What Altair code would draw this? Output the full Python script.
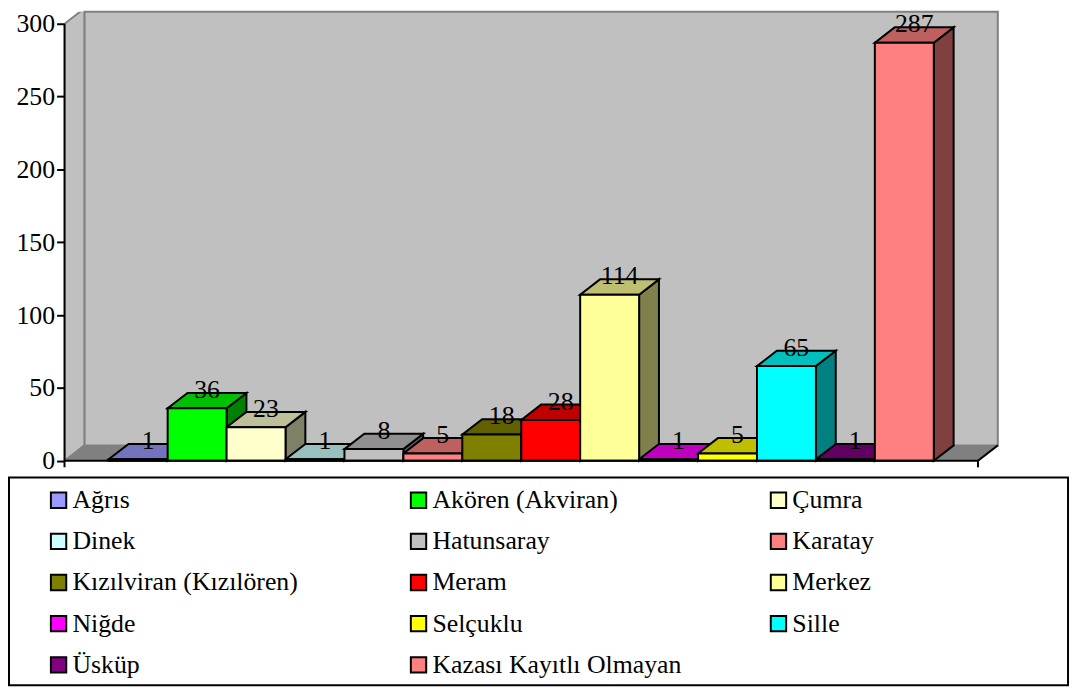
import altair as alt
import pandas as pd

# ---- data ----
names = ["Ağrıs", "Akören (Akviran)", "Çumra", "Dinek", "Hatunsaray", "Karatay",
         "Kızılviran (Kızılören)", "Meram", "Merkez", "Niğde", "Selçuklu", "Sille",
         "Üsküp", "Kazası Kayıtlı Olmayan"]
values = [1, 36, 23, 1, 8, 5, 18, 28, 114, 1, 5, 65, 1, 287]
colors = ["#9999FF", "#00FF00", "#FFFFCC", "#CCFFFF", "#C0C0C0", "#FF8080",
          "#808000", "#FF0000", "#FFFF99", "#FF00FF", "#FFFF00", "#00FFFF",
          "#800080", "#FF8080"]
y_ticks = [0, 50, 100, 150, 200, 250, 300]

# ---- geometry (in scale units) ----
XMIN, XMAX = -0.75, 15.1        # x domain, bar i spans [i, i+1]
FR = 14.75                      # front-right end of the floor
DXU = 0.3365                    # depth offset in bar units
DY = 10.55                      # depth offset in value units
YTOP, YBOT = 308.2, -154.05     # y domain (plot also holds the legend frame)
W, H = 942, 679
FONT = "Liberation Serif"


def shade(hexc, f):
    r, g, b = (int(hexc[k:k + 2], 16) for k in (1, 3, 5))
    return "#%02X%02X%02X" % (round(r * f), round(g * f), round(b * f))


xs = alt.Scale(domain=[XMIN, XMAX], nice=False, zero=False)
ys = alt.Scale(domain=[YBOT, YTOP], nice=False, zero=False)
yaxis = alt.Axis(values=y_ticks, title=None, domain=False, grid=False,
                 tickColor="black", tickWidth=2, tickSize=8,
                 labelFont=FONT, labelFontSize=26, labelColor="black",
                 labelPadding=2)


def X(f):
    return alt.X(f, type="quantitative", scale=xs, axis=None)


def Y(f):
    return alt.Y(f, type="quantitative", scale=ys, axis=yaxis, stack=None)


# ---- tables built from the arrays ----
front = pd.DataFrame({"name": names, "x0": list(range(len(names))),
                      "x1": [i + 1 for i in range(len(names))],
                      "y0": [0] * len(names), "v": values})

top_rows, side_rows = [], []
for i, (n, v, c) in enumerate(zip(names, values, colors)):
    top_rows.append({"name": n, "y": v, "xa": i, "xb": i + 1, "c": shade(c, 0.75)})
    top_rows.append({"name": n, "y": v + DY, "xa": i + DXU, "xb": i + 1 + DXU, "c": shade(c, 0.75)})
    side_rows.append({"name": n, "x": i + 1, "ya": 0, "yb": v, "c": shade(c, 0.5)})
    side_rows.append({"name": n, "x": i + 1 + DXU, "ya": DY, "yb": v + DY, "c": shade(c, 0.5)})
tops = pd.DataFrame(top_rows)
sides = pd.DataFrame(side_rows)
labels = pd.DataFrame({"x": [i + 0.5 + DXU / 2 for i in range(len(names))],
                       "y": [v + DY for v in values], "t": [str(v) for v in values]})

# ---- walls and floor ----
back_wall = alt.Chart(pd.DataFrame({"a": [XMIN + DXU], "b": [FR + DXU], "c": [DY], "d": [YTOP]})).mark_rect(
    fill="#C0C0C0", stroke="#808080", strokeWidth=2).encode(x=X("a"), x2="b", y=Y("c"), y2="d")

left_wall = alt.Chart(pd.DataFrame({"x": [XMIN, XMIN + DXU], "ya": [0, DY], "yb": [300, 300 + DY]})).mark_area(
    fill="#C0C0C0", stroke="#808080", strokeWidth=2, clip=True, orient="vertical").encode(
    x=X("x"), y=Y("ya"), y2="yb")

floor = alt.Chart(pd.DataFrame({"y": [0, DY], "xa": [XMIN, XMIN + DXU], "xb": [FR, FR + DXU]})).mark_area(
    fill="#808080", orient="horizontal").encode(y=Y("y"), x=X("xa"), x2="xb")

floor_edge = alt.Chart(pd.DataFrame({"a": [FR], "b": [FR + DXU], "c": [0], "d": [DY]})).mark_rule(
    color="black", strokeWidth=2).encode(x=X("a"), x2="b", y=Y("c"), y2="d")

# ---- bars ----
side_layer = alt.Chart(sides).mark_area(orient="vertical", stroke="black", strokeWidth=2,
                                        strokeJoin="miter").encode(
    x=X("x"), y=Y("ya"), y2="yb", fill=alt.Fill("c:N", scale=None), detail="name:N")

top_layer = alt.Chart(tops).mark_area(orient="horizontal", stroke="black", strokeWidth=2,
                                      strokeJoin="miter").encode(
    y=Y("y"), x=X("xa"), x2="xb", fill=alt.Fill("c:N", scale=None), detail="name:N")

front_layer = alt.Chart(front).mark_rect(stroke="black", strokeWidth=2).encode(
    x=X("x0"), x2="x1", y=Y("y0"), y2="v",
    color=alt.Color("name:N", sort=names,
                    scale=alt.Scale(domain=names, range=colors),
                    legend=alt.Legend(
                        title=None, orient="none", legendX=-19, legendY=479.5,
                        direction="horizontal",
                        columns=3, gridAlign="all", columnPadding=84, rowPadding=15.5,
                        symbolType="square", symbolSize=240, symbolStrokeColor="black",
                        symbolStrokeWidth=2, symbolOpacity=1, labelOffset=1,
                        labelFont=FONT, labelFontSize=26, labelColor="black",
                        labelLimit=500, padding=0)))

text_layer = alt.Chart(labels).mark_text(font=FONT, fontSize=26, color="black",
                                         baseline="middle", align="center", dy=-3).encode(
    x=X("x"), y=Y("y"), text="t:N")

# ---- axis lines ----
y_line = alt.Chart(pd.DataFrame({"a": [XMIN], "c": [-4.5], "d": [300]})).mark_rule(
    color="black", strokeWidth=2).encode(x=X("a"), y=Y("c"), y2="d")
x_line = alt.Chart(pd.DataFrame({"a": [XMIN], "b": [FR], "c": [0]})).mark_rule(
    color="black", strokeWidth=2).encode(x=X("a"), x2="b", y=Y("c"))
x_tick = alt.Chart(pd.DataFrame({"a": [FR], "c": [-4.5], "d": [0]})).mark_rule(
    color="black", strokeWidth=2).encode(x=X("a"), y=Y("c"), y2="d")

# ---- legend frame ----
frame = alt.Chart(pd.DataFrame({"a": [-1.692], "b": [16.278], "c": [-11.44], "d": [YBOT]})).mark_rect(
    filled=False, stroke="black", strokeWidth=2).encode(x=X("a"), x2="b", y=Y("c"), y2="d")

chart = alt.layer(back_wall, left_wall, floor, floor_edge, side_layer, top_layer,
                  front_layer, text_layer, y_line, x_line, x_tick, frame).properties(
    width=W, height=H, padding=0).configure_view(stroke=None).configure_legend(
    labelFont=FONT, labelFontSize=26, labelColor="black")

chart.save("out.html", embed_options={"renderer": "svg", "actions": False})
